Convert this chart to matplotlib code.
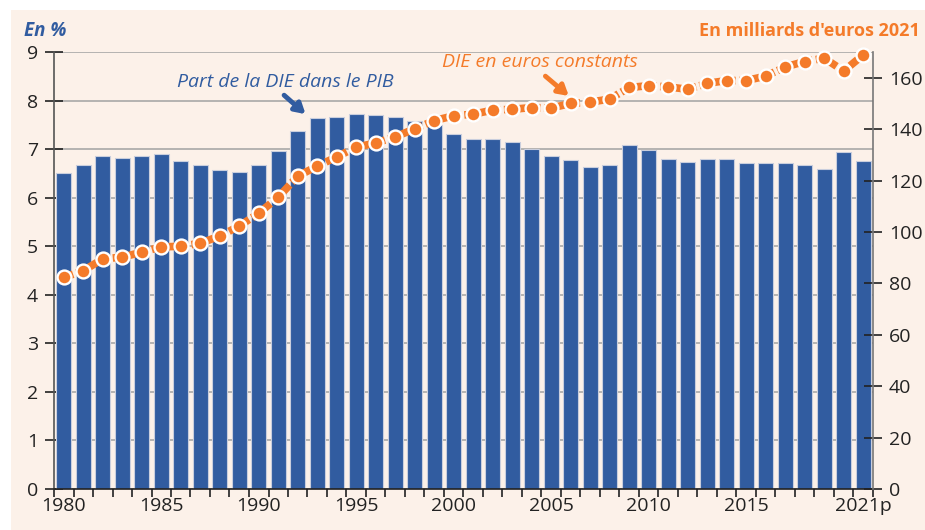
import matplotlib
matplotlib.use("Agg")
import matplotlib.pyplot as plt
from matplotlib.patches import Rectangle
import numpy as np

years = list(range(1980, 2022))
part_pib = [6.51, 6.67, 6.85, 6.82, 6.86, 6.90, 6.76, 6.68, 6.56, 6.53,
            6.67, 6.96, 7.37, 7.64, 7.66, 7.72, 7.70, 7.66, 7.58, 7.50,
            7.31, 7.20, 7.20, 7.15, 7.00, 6.86, 6.77, 6.64, 6.68, 7.08,
            6.98, 6.80, 6.73, 6.80, 6.79, 6.71, 6.71, 6.71, 6.67, 6.60,
            6.95, 6.75]
die_const = [82.3, 84.9, 89.5, 90.2, 92.1, 94.2, 94.4, 95.6, 98.4, 102.3,
             107.3, 113.5, 121.7, 125.6, 129.2, 133.0, 134.6, 137.0, 140.1, 143.3,
             145.2, 145.8, 147.4, 147.7, 148.4, 148.2, 150.0, 150.5, 151.7, 156.2,
             156.9, 156.4, 155.5, 157.8, 158.9, 158.9, 160.6, 164.2, 166.3, 167.6,
             162.6, 168.9]
xtick_years = [1980, 1985, 1990, 1995, 2000, 2005, 2010, 2015, 2021]
xtick_labels = ["1980", "1985", "1990", "1995", "2000", "2005", "2010", "2015", "2021p"]
left_ticks = list(range(0, 10))
right_ticks = list(range(0, 161, 20))

BLUE = "#315CA0"
ORANGE = "#F47B2A"
BG = "#FCF1E9"
FONT = "Open Sans"

plt.rcParams["font.family"] = [FONT, "DejaVu Sans"]

fig = plt.figure(figsize=(9.25, 5.30), dpi=100, facecolor="white")
fig.patches.append(Rectangle((11/925, 0), 1, 1 - 10/530, transform=fig.transFigure,
                             facecolor=BG, edgecolor="none", zorder=-10))

ax = fig.add_axes([54/925, 1 - 489/530, (873 - 54)/925, (489 - 52)/530])
ax.set_facecolor(BG)
x = np.arange(len(years))
ax.bar(x, part_pib, width=0.77, color=BLUE, edgecolor="#C9CEDD", linewidth=0.8, zorder=2)
ax.set_xlim(-0.5, len(years) - 0.5)
ax.set_ylim(0, 9)
ax.set_yticks(left_ticks)
ax.grid(axis="y", color="#A8A8A8", linewidth=1.2, zorder=0)
ax.set_axisbelow(True)

ax.set_xticks([years.index(y) for y in xtick_years])
ax.set_xticklabels(xtick_labels)
ax.set_xticks(np.arange(-0.5, len(years)), minor=True)
ax.tick_params(axis="x", which="major", length=0, pad=6, labelsize=14, colors="#222222")
ax.tick_params(axis="x", which="minor", length=6, width=1.2, direction="out", color="#222222")
ax.tick_params(axis="y", which="major", length=13, width=1.2, direction="inout",
               labelsize=14, colors="#222222", pad=5)

ax.spines["top"].set_visible(False)
ax.spines["left"].set_color("#555555")
ax.spines["left"].set_linewidth(1.2)
ax.spines["bottom"].set_color("#222222")
ax.spines["bottom"].set_linewidth(1.2)
ax.spines["right"].set_visible(False)

ax2 = ax.twinx()
ax2.set_ylim(0, 170)
ax2.set_yticks(right_ticks)
ax2.plot(x, die_const, color=ORANGE, linewidth=5.5, linestyle=(0, (1.3, 0.45)),
         marker="o", markersize=10, markerfacecolor=ORANGE, markeredgecolor="white",
         markeredgewidth=1.7, zorder=5, solid_capstyle="butt", dash_capstyle="butt",
         clip_on=False)
ax2.tick_params(axis="y", length=13, width=1.2, direction="inout", labelsize=14,
                colors="#222222", pad=5)
for s in ["top", "left", "bottom"]:
    ax2.spines[s].set_visible(False)
ax2.spines["right"].set_color("#777777")
ax2.spines["right"].set_linewidth(1.2)

fig.text(24/925, 1 - 31/530, "En %", color=BLUE, fontsize=13.5, fontweight="bold",
         fontstyle="italic", ha="left", va="center")
fig.text(920/925, 1 - 31/530, "En milliards d'euros 2021", color=ORANGE, fontsize=13,
         fontweight="bold", ha="right", va="center")

ax.annotate("", xy=(12.4, 7.72), xytext=(11.3, 8.11),
            arrowprops=dict(arrowstyle="-|>,head_length=0.6,head_width=0.35",
                            color=BLUE, lw=3.5, shrinkA=0, shrinkB=0))
ax.text(5.79, 8.38, "Part de la DIE dans le PIB", color=BLUE,
        fontsize=14, fontstyle="italic", ha="left", va="center")

ax2.annotate("", xy=(25.9, 152.9), xytext=(24.7, 160.6),
             arrowprops=dict(arrowstyle="-|>,head_length=0.6,head_width=0.35",
                             color=ORANGE, lw=3.5, shrinkA=0, shrinkB=0))
ax2.text(19.4, 166.1, "DIE en euros constants", color=ORANGE,
         fontsize=14, fontstyle="italic", ha="left", va="center")

fig.savefig("out.png", dpi=100, facecolor="white")
